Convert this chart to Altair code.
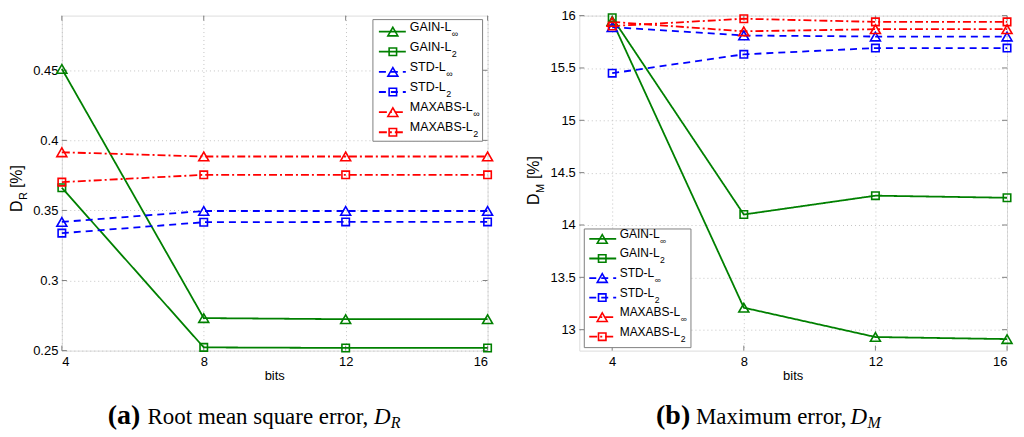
import altair as alt
import pandas as pd

# ---------------- data ----------------
bits = [4, 8, 12, 16]
series = ["GAIN-L∞", "GAIN-L2", "STD-L∞", "STD-L2", "MAXABS-L∞", "MAXABS-L2"]
legend_main = ["GAIN-L", "GAIN-L", "STD-L", "STD-L", "MAXABS-L", "MAXABS-L"]
legend_sub = ["∞", "2", "∞", "2", "∞", "2"]
colors = ["#008000", "#008000", "#0000ff", "#0000ff", "#ff0000", "#ff0000"]
dashes = [[1, 0], [1, 0], [7, 5], [7, 5], [8, 3, 2, 3], [8, 3, 2, 3]]
shapes = ["triangle-up", "square", "triangle-up", "square", "triangle-up", "square"]

# (a) root mean square error D_R [%]
dr_gain_linf = [0.451, 0.2732, 0.2724, 0.2724]
dr_gain_l2 = [0.3662, 0.2523, 0.2519, 0.2519]
dr_std_linf = [0.3418, 0.3496, 0.3496, 0.3496]
dr_std_l2 = [0.3338, 0.3416, 0.3418, 0.3418]
dr_max_linf = [0.3915, 0.3885, 0.3885, 0.3885]
dr_max_l2 = [0.3702, 0.3754, 0.3754, 0.3754]
dr_yticks = [0.25, 0.3, 0.35, 0.4, 0.45]

# (b) maximum error D_M [%]
dm_gain_linf = [15.95, 13.21, 12.93, 12.91]
dm_gain_l2 = [15.98, 14.10, 14.28, 14.26]
dm_std_linf = [15.89, 15.81, 15.80, 15.80]
dm_std_l2 = [15.45, 15.63, 15.69, 15.69]
dm_max_linf = [15.94, 15.85, 15.87, 15.87]
dm_max_l2 = [15.90, 15.97, 15.94, 15.94]
dm_yticks = [13, 13.5, 14, 14.5, 15, 15.5, 16]

SANS = "Liberation Sans"
SERIF = "Liberation Serif"
FRAME = "#808080"
GRID = "#c4c4c4"
ONE = pd.DataFrame({"o": [0]})

ARIAL = {"A": 667, "B": 667, "D": 722, "G": 778, "I": 278, "L": 556, "M": 833,
         "N": 722, "S": 667, "T": 611, "X": 667, "-": 333}


def twidth(s, fs):
    return sum(ARIAL.get(c, 600) for c in s) / 1000.0 * fs


def make_panel(vals, xdom, ydom, yticks, W, H, leg, ytit, cap):
    rows = []
    for name, v in zip(series, vals):
        for b, y in zip(bits, v):
            rows.append({"bits": b, "v": y, "series": name})
    df = pd.DataFrame(rows)

    xsc = alt.Scale(domain=xdom, nice=False, zero=False)
    ysc = alt.Scale(domain=ydom, nice=False, zero=False)
    xax = alt.Axis(values=bits, format="~g", grid=True, gridColor=GRID, gridDash=[1, 3],
                   domain=False, ticks=True, tickSize=0, labelPadding=5, title=None,
                   labelFont=SANS, labelFontSize=13, labelColor="#000")
    yax = alt.Axis(values=yticks, format="~g", grid=True, gridColor=GRID, gridDash=[1, 3],
                   domain=False, ticks=True, tickSize=0, labelPadding=4, title=None,
                   labelFont=SANS, labelFontSize=13, labelColor="#000")
    X = alt.X("bits:Q", scale=xsc, axis=xax)
    Y = alt.Y("v:Q", scale=ysc, axis=yax)
    col = alt.Color("series:N", scale=alt.Scale(domain=series, range=colors), legend=None)

    layers = []
    # inward ticks
    ty = alt.Chart(pd.DataFrame({"v": yticks}))
    tx = alt.Chart(pd.DataFrame({"bits": bits}))
    layers.append(ty.mark_rule(color=FRAME).encode(y=Y, x=alt.value(0), x2=alt.value(5)))
    layers.append(ty.mark_rule(color=FRAME).encode(y=Y, x=alt.value(W - 5), x2=alt.value(W)))
    layers.append(tx.mark_rule(color=FRAME).encode(x=X, y=alt.value(H - 5), y2=alt.value(H)))
    layers.append(tx.mark_rule(color=FRAME).encode(x=X, y=alt.value(0), y2=alt.value(5)))

    base = alt.Chart(df)
    layers.append(base.mark_line(strokeWidth=1.8).encode(
        x=X, y=Y, color=col,
        strokeDash=alt.StrokeDash("series:N", scale=alt.Scale(domain=series, range=dashes), legend=None)))
    tri = [s for s, sh in zip(series, shapes) if sh == "triangle-up"]
    sq = [s for s, sh in zip(series, shapes) if sh == "square"]
    layers.append(base.transform_filter(alt.FieldOneOfPredicate(field="series", oneOf=tri))
                  .mark_point(shape="triangle-up", filled=False, size=100, strokeWidth=1.6, opacity=1)
                  .encode(x=X, y=Y, color=col))
    layers.append(base.transform_filter(alt.FieldOneOfPredicate(field="series", oneOf=sq))
                  .mark_point(shape="square", filled=False, size=56, strokeWidth=1.6, opacity=1)
                  .encode(x=X, y=Y, color=col))

    # legend
    one = alt.Chart(ONE)
    layers.append(one.mark_rect(fill="white", stroke=FRAME, strokeWidth=1).encode(
        x=alt.value(leg["x0"]), x2=alt.value(leg["x1"]), y=alt.value(leg["y0"]), y2=alt.value(leg["y1"])))
    for i, name in enumerate(series):
        yy = leg["r0"] + leg["dy"] * i
        layers.append(one.mark_rule(color=colors[i], strokeDash=dashes[i], strokeWidth=1.8).encode(
            x=alt.value(leg["lx0"]), x2=alt.value(leg["lx1"]), y=alt.value(yy)))
        layers.append(one.mark_point(shape=shapes[i], filled=False, color=colors[i], opacity=1,
                                     size=100 if shapes[i] == "triangle-up" else 56, strokeWidth=1.6).encode(
            x=alt.value(leg["mx"]), y=alt.value(yy)))
        layers.append(one.mark_text(text=legend_main[i], font=SANS, fontSize=leg["fs"], color="#000",
                                    align="left", baseline="alphabetic").encode(
            x=alt.value(leg["tx"]), y=alt.value(yy - 1)))
        layers.append(one.mark_text(text=legend_sub[i], font=SANS, fontSize=leg["fs"] * 0.72, color="#000",
                                    align="left", baseline="alphabetic").encode(
            x=alt.value(leg["tx"] + twidth(legend_main[i], leg["fs"]) + 0.5), y=alt.value(yy + 5)))

    # y title with subscript (rotated)
    for txt, x, y, fs in ytit:
        layers.append(one.mark_text(text=txt, font=SANS, fontSize=fs, color="#000", angle=270,
                                    align="left", baseline="alphabetic").encode(
            x=alt.value(x), y=alt.value(y)))
    # x title
    layers.append(one.mark_text(text="bits", font=SANS, fontSize=13, color="#000",
                                align="center", baseline="alphabetic").encode(
        x=alt.value(W / 2), y=alt.value(H + 29)))
    # caption
    for txt, x, y, fs, wgt, sty in cap:
        kw = dict(text=txt, font=SERIF, fontSize=fs, color="#000", align="left", baseline="alphabetic")
        if wgt:
            kw["fontWeight"] = wgt
        if sty:
            kw["fontStyle"] = sty
        layers.append(one.mark_text(**kw).encode(x=alt.value(x), y=alt.value(y)))

    return alt.layer(*layers).properties(width=W, height=H)


left = make_panel(
    [dr_gain_linf, dr_gain_l2, dr_std_linf, dr_std_l2, dr_max_linf, dr_max_l2],
    [4, 16], [0.25, 0.489], dr_yticks, 427, 336,
    dict(x0=312, x1=422, y0=4, y1=126, lx0=318, lx1=345, mx=332, tx=349, r0=16, dy=20.2, fs=12.5),
    [("D", -40, 197, 16), ("R", -35, 185, 11), ("[%]", -40, 173, 16)],
    [("(a)", 46, 410, 28, "bold", None), ("Root mean square error,", 86, 410, 23, None, None),
     ("D", 313, 410, 23, None, "italic"), ("R", 330, 414, 16, None, "italic")],
)

right = make_panel(
    [dm_gain_linf, dm_gain_l2, dm_std_linf, dm_std_l2, dm_max_linf, dm_max_l2],
    [3, 16], [12.8, 16], dm_yticks, 429, 336,
    dict(x0=5, x1=112, y0=214, y1=333, lx0=10, lx1=37, mx=23, tx=40.5, r0=224, dy=19.6, fs=12),
    [("D", -40, 190, 16), ("M", -35, 178, 11), ("[%]", -40, 164, 16)],
    [("(b)", 77, 410, 28, "bold", None), ("Maximum error,", 117, 410, 23, None, None),
     ("D", 272, 410, 23, None, "italic"), ("M", 289, 414, 16, None, "italic")],
)

chart = alt.hconcat(left, right, spacing=92, bounds="flush").properties(
    padding={"left": 0, "top": 0, "right": 0, "bottom": 0}
).configure_view(stroke=FRAME, strokeWidth=1).configure(background="white")

chart.save("out.html", embed_options={"renderer": "svg", "actions": False})
